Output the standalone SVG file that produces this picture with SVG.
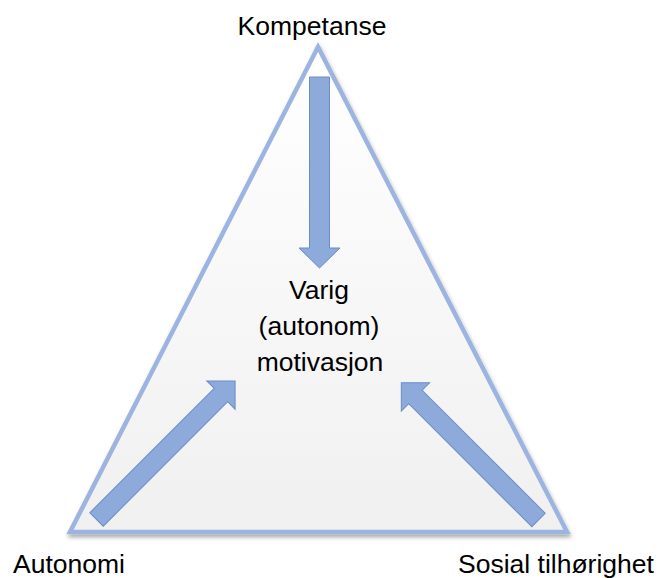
<svg xmlns="http://www.w3.org/2000/svg" width="669" height="578" viewBox="0 0 669 578">
  <style>
    .label { font-family: "Liberation Sans", Arial, sans-serif; font-size: 26.5px; fill: #000; }
    .center { text-anchor: middle; }
    .frame { fill: url(#triFill); stroke: #9cb4df; stroke-width: 4.5; stroke-linejoin: miter; }
    .arrow { fill: #8eaadb; stroke: #6a8cc7; stroke-width: 1; stroke-linejoin: miter; }
  </style>
  <defs>
    <linearGradient id="triFill" x1="0" y1="0" x2="0" y2="1">
      <stop offset="0" stop-color="#ffffff"/>
      <stop offset="1" stop-color="#f0f0f0"/>
    </linearGradient>
    <filter id="shadow" x="-10%" y="-10%" width="120%" height="125%">
      <feGaussianBlur in="SourceAlpha" stdDeviation="2"/>
      <feOffset dx="1" dy="3" result="blur"/>
      <feComponentTransfer><feFuncA type="linear" slope="0.35"/></feComponentTransfer>
      <feMerge><feMergeNode/><feMergeNode in="SourceGraphic"/></feMerge>
    </filter>
  </defs>

  <rect width="669" height="578" fill="#ffffff"/>

  <!-- triangle frame -->
  <g id="triangle" filter="url(#shadow)">
    <polygon class="frame" points="318,47 70,532 567,532"/>
  </g>

  <!-- arrows pointing to the centre -->
  <g id="connectors">
    <!-- from Kompetanse (down) -->
    <path class="arrow" transform="translate(319.5,77) rotate(90)" d="M0,-10 H171 V-20.5 L191,0 L171,20.5 V10 H0 Z"/>
    <!-- from Autonomi (up-right) -->
    <path class="arrow" transform="translate(96.5,519.5) rotate(-45)" d="M0,-9.5 H176 V-20 L196,0 L176,20 V9.5 H0 Z"/>
    <!-- from Sosial tilhørighet (up-left) -->
    <path class="arrow" transform="translate(538.5,520) rotate(-135)" d="M0,-9.5 H174 V-20 L194,0 L174,20 V9.5 H0 Z"/>
  </g>

  <g id="node-kompetanse">
    <text class="label center" x="312" y="35">Kompetanse</text>
  </g>

  <g id="node-motivasjon">
    <text class="label center" x="319" y="299" font-size="27">Varig</text>
    <text class="label center" x="319" y="335" font-size="27">(autonom)</text>
    <text class="label center" x="320" y="371" font-size="27">motivasjon</text>
  </g>

  <g id="node-autonomi">
    <text class="label" x="13" y="573">Autonomi</text>
  </g>

  <g id="node-sosial">
    <text class="label" x="458" y="573" font-size="27.5">Sosial tilhørighet</text>
  </g>
</svg>
